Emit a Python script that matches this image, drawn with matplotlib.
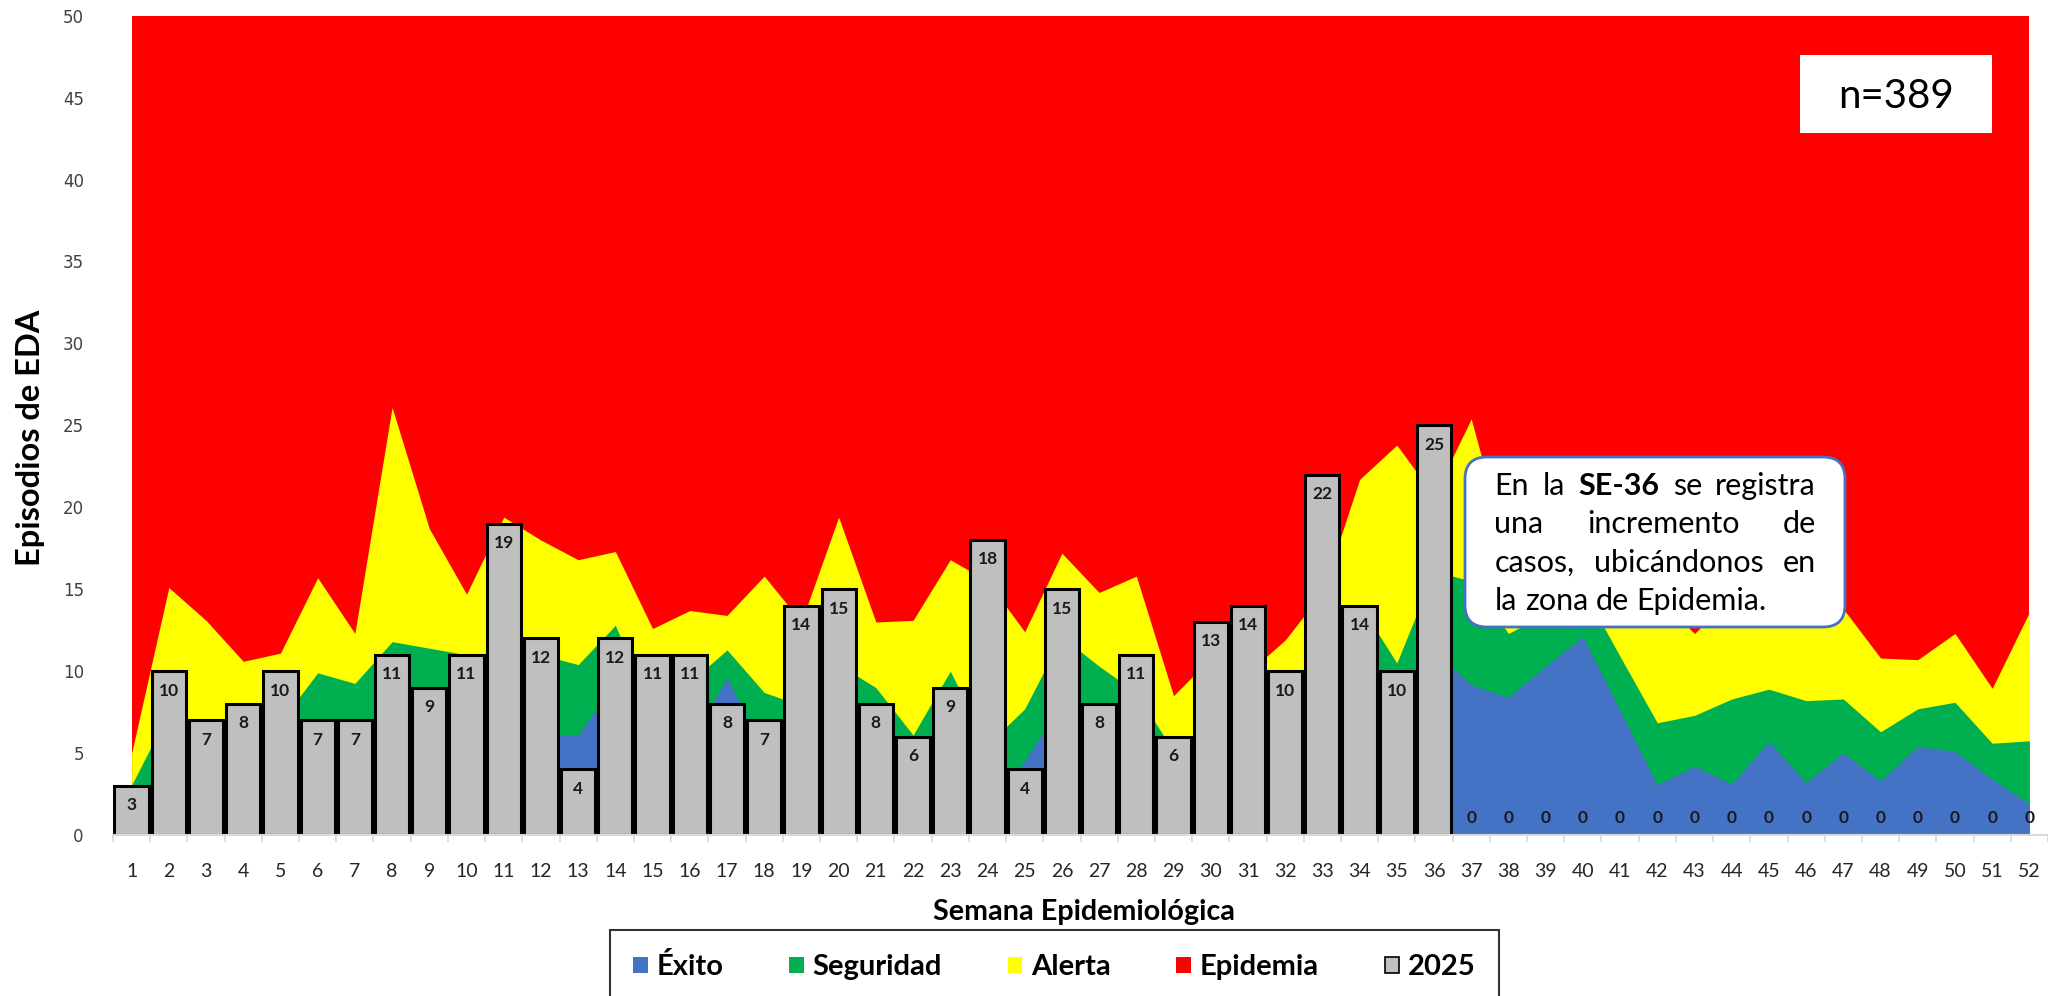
import matplotlib
matplotlib.use("Agg")
import matplotlib.pyplot as plt
import numpy as np
from matplotlib.patches import Patch, FancyBboxPatch, Rectangle

plt.rcParams['font.family'] = ['Lato', 'DejaVu Sans']

# Semanas epidemiologicas
weeks = np.arange(1, 53)
week_labels = [str(w) for w in weeks]

# Canal endemico (limites superiores acumulados de cada zona)
exito_top = [1.0, 4.0, 2.8, 0.3, 4.4, 5.8, 5.6, 6.0, 7.1, 6.5, 3.9, 6.1, 6.1, 9.3, 4.7, 5.5,
             9.6, 5.0, 4.6, 5.6, 5.6, 3.0, 3.5, 1.5, 4.5, 8.1, 7.3, 4.5, 3.1, 1.9, 3.5, 4.1,
             4.5, 7.5, 5.1, 11.3, 9.15, 8.4, 10.3, 12.1, 7.6, 3.05, 4.2, 3.1, 5.7, 3.2, 5.0,
             3.3, 5.4, 5.1, 3.4, 1.9]
seguridad_top = [3.05, 7.5, 6.5, 3.5, 6.9, 9.9, 9.25, 11.8, 11.4, 11.0, 8.0, 11.0, 10.4, 12.8,
                 7.5, 9.3, 11.3, 8.7, 7.9, 10.4, 9.0, 6.1, 10.0, 5.5, 7.7, 12.1, 10.3, 8.7,
                 5.1, 5.5, 5.9, 7.7, 7.3, 14.1, 10.5, 16.1, 15.5, 12.3, 13.5, 15.0, 10.9, 6.85,
                 7.3, 8.3, 8.9, 8.2, 8.3, 6.3, 7.7, 8.1, 5.6, 5.75]
alerta_top = [5.0, 15.1, 13.1, 10.6, 11.1, 15.7, 12.3, 26.1, 18.7, 14.7, 19.4, 18.0, 16.8, 17.3,
              12.6, 13.7, 13.4, 15.8, 13.0, 19.4, 13.0, 13.1, 16.8, 15.5, 12.4, 17.2, 14.8, 15.8,
              8.5, 10.8, 9.9, 11.9, 14.8, 21.7, 23.8, 20.7, 25.4, 17.0, 16.0, 15.5, 15.0, 14.5,
              12.3, 14.5, 15.0, 14.2, 13.8, 10.8, 10.7, 12.3, 8.95, 13.6]

# Casos 2025
casos_2025 = [3, 10, 7, 8, 10, 7, 7, 11, 9, 11, 19, 12, 4, 12, 11, 11, 8, 7, 14, 15, 8, 6, 9, 18,
              4, 15, 8, 11, 6, 13, 14, 10, 22, 14, 10, 25,
              0, 0, 0, 0, 0, 0, 0, 0, 0, 0, 0, 0, 0, 0, 0, 0]

Y_MAX = 50
C_EXITO, C_SEG, C_ALERTA, C_EPI, C_BAR = '#4472C4', '#00B050', '#FFFF00', '#FF0000', '#BFBFBF'

W, H = 2048, 996
fig = plt.figure(figsize=(W / 100, H / 100), dpi=100)
ax = fig.add_axes([113 / W, (H - 835) / H, (W - 113) / W, (835 - 15.7) / H])

# Areas (each drawn from 0 so there are no seams)
ax.fill_between(weeks, 0, Y_MAX, color=C_EPI, lw=0, zorder=1)
ax.fill_between(weeks, 0, alerta_top, color=C_ALERTA, lw=0, zorder=2)
ax.fill_between(weeks, 0, seguridad_top, color=C_SEG, lw=0, zorder=3)
ax.fill_between(weeks, 0, exito_top, color=C_EXITO, lw=0, zorder=4)

# Barras 2025
lws = [2.2 if v > 0 else 0 for v in casos_2025]
ax.bar(weeks, casos_2025, width=0.92, color=C_BAR, edgecolor='black', linewidth=lws, zorder=5)
for w, v in zip(weeks, casos_2025):
    ax.annotate(str(v), (w, v), xytext=(0, -14 if v > 0 else 12), textcoords='offset points',
                ha='center', va='center', fontsize=12.5, fontweight='bold', color='#1a1a1a',
                zorder=6)

ax.set_xlim(0.5, 0.5 + (W - 113) / 37.25)
ax.set_ylim(0, Y_MAX)
ax.set_yticks(range(0, 51, 5))
ax.set_yticklabels([str(v) for v in range(0, 51, 5)], family='DejaVu Sans', fontsize=12,
                   color='#404040')
ax.set_xticks(weeks)
ax.set_xticklabels(week_labels, fontsize=14, color='#262626')
ax.set_xticks(np.arange(0.5, 53, 1), minor=True)
ax.tick_params(axis='x', which='major', length=0, pad=20)
ax.tick_params(axis='x', which='minor', length=5, color='#D9D9D9', width=1.2)
ax.tick_params(axis='y', length=0, pad=21)
for s in ['left', 'top', 'right']:
    ax.spines[s].set_visible(False)
ax.spines['bottom'].set_color('#D9D9D9')
ax.spines['bottom'].set_linewidth(1.5)
ax.spines['bottom'].set_zorder(7)

# Titulos de ejes
fig.text(31 / W, (H - 438) / H, 'Episodios de EDA', rotation=90, ha='center', va='center',
         fontsize=23.5, fontweight='bold')
fig.text(1084 / W, (H - 912) / H, 'Semana Epidemiológica', ha='center', va='center',
         fontsize=20.7, fontweight='bold')

# Leyenda
handles = [Patch(facecolor=C_EXITO), Patch(facecolor=C_SEG), Patch(facecolor=C_ALERTA),
           Patch(facecolor=C_EPI), Patch(facecolor=C_BAR, edgecolor='black', linewidth=1.2)]
labels = ['Éxito', 'Seguridad', 'Alerta', 'Epidemia', '2025']
leg = fig.legend(handles, labels, loc='upper center', bbox_to_anchor=(1054.5 / W, (H - 930) / H),
                 ncol=5, frameon=True, fancybox=False, edgecolor='black',
                 prop={'weight': 'bold', 'size': 21}, handlelength=0.5, handleheight=0.5,
                 handletextpad=0.3, columnspacing=2.25, borderpad=0.8, borderaxespad=0)
leg.get_frame().set_linewidth(1.5)

# Cuadro n=389
fig.add_artist(Rectangle((1800 / W, (H - 133) / H), 192 / W, 78 / H, transform=fig.transFigure,
                         facecolor='white', edgecolor='none', zorder=10))
fig.text(1896 / W, (H - 96) / H, 'n=389', ha='center', va='center', fontsize=29, zorder=11)

# Cuadro de comentario
box = FancyBboxPatch((14.65, (H - 627) / 100), 3.80, 1.70,
                     boxstyle='round,pad=0,rounding_size=0.22', transform=fig.dpi_scale_trans,
                     facecolor='white', edgecolor='#4472C4', linewidth=2, zorder=10)
fig.add_artist(box)

lines = [
    ([('En', 'normal'), ('la', 'normal'), ('SE-36', 'bold'), ('se', 'normal'),
      ('registra', 'normal')], True),
    ([('una', 'normal'), ('incremento', 'normal'), ('de', 'normal')], True),
    ([('casos,', 'normal'), ('ubicándonos', 'normal'), ('en', 'normal')], True),
    ([('la', 'normal'), ('zona', 'normal'), ('de', 'normal'), ('Epidemia.', 'normal')], False),
]
baselines = [495, 533, 572, 610]
x_left, x_right = 1494.5, 1816
fs = 22
fig.canvas.draw()
rend = fig.canvas.get_renderer()


def text_width(s, weight):
    t = fig.text(0, 0, s, fontsize=fs, fontweight=weight)
    wd = t.get_window_extent(renderer=rend).width
    t.remove()
    return wd


space = text_width('a b', 'normal') - text_width('ab', 'normal')
for (words, justify), yb in zip(lines, baselines):
    widths = [text_width(s, wgt) for s, wgt in words]
    if justify:
        gap = (x_right - x_left - sum(widths)) / (len(words) - 1)
    else:
        gap = space
    x = x_left
    for (s, wgt), wd in zip(words, widths):
        fig.text(x / W, (H - yb) / H, s, fontsize=fs, fontweight=wgt, ha='left',
                 va='baseline', zorder=11)
        x += wd + gap

fig.savefig('out.png', dpi=100)
